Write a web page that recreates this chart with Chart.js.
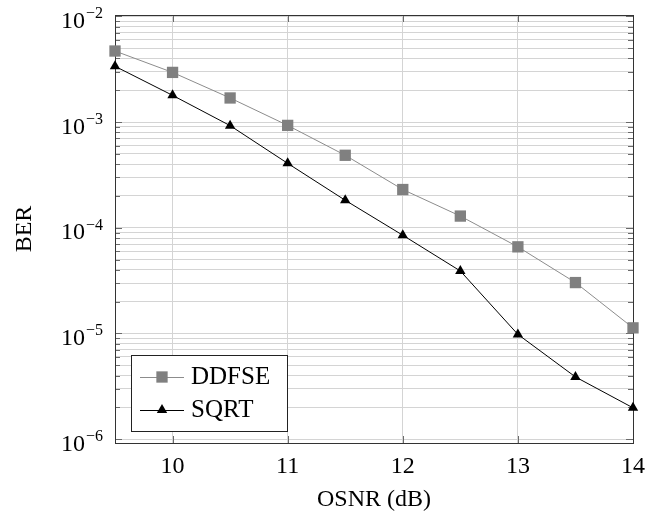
<!DOCTYPE html>
<html>
<head>
<meta charset="utf-8">
<script src="https://cdn.jsdelivr.net/npm/chart.js@4/dist/chart.umd.min.js"></script>
<style>
  html, body { margin: 0; padding: 0; background: #fff; }
  #wrap { width: 660px; height: 520px; }
</style>
</head>
<body>
<div id="wrap"><canvas id="chart" width="660" height="520"></canvas></div>
<script>
const osnrDb = [9.5, 10, 10.5, 11, 11.5, 12, 12.5, 13, 13.5, 14];
const berDdfse = [4.7e-3, 2.95e-3, 1.69e-3, 9.3e-4, 4.85e-4, 2.3e-4, 1.29e-4, 6.6e-5, 3.03e-5, 1.13e-5];
const berSqrt = [3.37e-3, 1.79e-3, 9.25e-4, 4.07e-4, 1.82e-4, 8.5e-5, 3.9e-5, 9.8e-6, 3.88e-6, 1.98e-6];
const seriesNames = ['DDFSE', 'SQRT'];
const xTicks = [10, 11, 12, 13, 14];
const yDecades = [-6, -5, -4, -3, -2];

const serif = '"Liberation Serif", "DejaVu Serif", serif';
const gridColor = '#d4d4d4';

function toPoints(vals) {
  return osnrDb.map((x, i) => ({ x: x, y: vals[i] }));
}

function line(ctx, x1, y1, x2, y2) {
  ctx.beginPath();
  ctx.moveTo(x1, y1);
  ctx.lineTo(x2, y2);
  ctx.stroke();
}

function drawMarker(ctx, style, x, y, r, color) {
  ctx.fillStyle = color;
  ctx.beginPath();
  if (style === 'rect') {
    const s = Math.SQRT1_2 * r;
    ctx.rect(x - s, y - s, 2 * s, 2 * s);
  } else {
    const h = r * Math.sqrt(3) / 2;
    ctx.moveTo(x, y - r);
    ctx.lineTo(x + h, y + r / 2);
    ctx.lineTo(x - h, y + r / 2);
    ctx.closePath();
  }
  ctx.fill();
}

const frame = {
  id: 'frame',
  beforeDatasetsDraw(chart) {
    const { ctx, chartArea: a, scales: { x, y } } = chart;
    ctx.save();
    ctx.lineWidth = 1;
    ctx.strokeStyle = '#6a6a6a';
    // ticks pointing inside, like the original
    y.ticks.forEach(t => {
      const py = Math.round(y.getPixelForValue(t.value)) + 0.5;
      const len = t.major ? 7 : 5;
      line(ctx, a.left, py, a.left + len, py);
      line(ctx, a.right - len, py, a.right, py);
    });
    x.ticks.forEach(t => {
      const px = Math.round(x.getPixelForValue(t.value)) + 0.5;
      line(ctx, px, a.bottom, px, a.bottom - 7);
      line(ctx, px, a.top, px, a.top + 7);
    });
    ctx.strokeStyle = '#333';
    ctx.strokeRect(Math.round(a.left) + 0.5, Math.round(a.top) + 0.5,
      Math.round(a.right - a.left), Math.round(a.bottom - a.top));
    ctx.restore();
  },
  afterDraw(chart) {
    const { ctx, chartArea: a, scales: { x, y } } = chart;
    ctx.save();
    ctx.fillStyle = '#000';

    // y tick labels 10^k
    yDecades.forEach(k => {
      const py = y.getPixelForValue(Math.pow(10, k));
      const sup = '\u2212' + Math.abs(k);
      ctx.font = '16px ' + serif;
      const supW = ctx.measureText(sup).width;
      const right = a.left - 12;
      ctx.textAlign = 'left';
      ctx.textBaseline = 'alphabetic';
      ctx.fillText(sup, right - supW, py + 2);
      ctx.font = '24px ' + serif;
      ctx.textAlign = 'right';
      ctx.fillText('10', right - supW - 1, py + 11.5);
    });

    // x tick labels
    ctx.font = '24px ' + serif;
    ctx.textAlign = 'center';
    ctx.textBaseline = 'alphabetic';
    xTicks.forEach(v => {
      ctx.fillText(String(v), x.getPixelForValue(v), a.bottom + 30);
    });

    // axis titles
    ctx.fillText('OSNR (dB)', (a.left + a.right) / 2, 506);
    ctx.save();
    ctx.translate(31, (a.top + a.bottom) / 2);
    ctx.rotate(-Math.PI / 2);
    ctx.fillText('BER', 0, 0);
    ctx.restore();

    // legend box
    const lx = 131, ly = 355, lw = 156, lh = 76;
    ctx.fillStyle = '#fff';
    ctx.fillRect(lx, ly, lw, lh);
    ctx.strokeStyle = '#222';
    ctx.lineWidth = 1;
    ctx.strokeRect(lx + 0.5, ly + 0.5, lw, lh);
    chart.data.datasets.forEach((ds, i) => {
      const cy = [377, 410][i];
      ctx.strokeStyle = ds.borderColor;
      ctx.lineWidth = ds.borderWidth;
      line(ctx, 140, cy + 0.5, 184, cy + 0.5);
      drawMarker(ctx, ds.pointStyle, 162, cy, ds.pointRadius, ds.pointBackgroundColor);
      ctx.fillStyle = '#000';
      ctx.font = '25px ' + serif;
      ctx.textAlign = 'left';
      ctx.textBaseline = 'alphabetic';
      ctx.fillText(ds.label, 191, cy + 6.5);
    });
    ctx.restore();
  }
};

new Chart(document.getElementById('chart'), {
  type: 'line',
  data: {
    datasets: [
      {
        label: seriesNames[0],
        data: toPoints(berDdfse),
        borderColor: '#8c8c8c',
        borderWidth: 1,
        pointStyle: 'rect',
        pointRadius: 8,
        pointBackgroundColor: '#808080',
        pointBorderWidth: 0,
        pointBorderColor: '#808080',
        tension: 0,
        clip: false
      },
      {
        label: seriesNames[1],
        data: toPoints(berSqrt),
        borderColor: '#000',
        borderWidth: 1,
        pointStyle: 'triangle',
        pointRadius: 6,
        pointBackgroundColor: '#000',
        pointBorderWidth: 0,
        pointBorderColor: '#000',
        tension: 0,
        clip: false
      }
    ]
  },
  options: {
    responsive: false,
    animation: false,
    layout: { padding: { left: 0, right: 27, top: 15, bottom: 0 } },
    plugins: {
      legend: { display: false },
      tooltip: { enabled: false }
    },
    scales: {
      x: {
        type: 'linear',
        min: 9.5,
        max: 14,
        afterBuildTicks: s => { s.ticks = xTicks.map(v => ({ value: v })); },
        afterFit: s => { s.height = 77; },
        ticks: { display: false },
        grid: { color: gridColor, drawTicks: false },
        border: { display: false }
      },
      y: {
        type: 'logarithmic',
        min: 9.2e-7,
        max: 1.03e-2,
        afterBuildTicks: s => {
          const t = [];
          for (let k = -7; k <= -2; k++) {
            for (let m = 1; m <= 9; m++) {
              const v = m * Math.pow(10, k);
              if (v >= s.min && v <= s.max) t.push({ value: v, major: m === 1 });
            }
          }
          s.ticks = t;
        },
        afterFit: s => { s.width = 115; },
        ticks: { display: false },
        grid: { color: gridColor, drawTicks: false },
        border: { display: false }
      }
    }
  },
  plugins: [frame]
});
</script>
</body>
</html>
